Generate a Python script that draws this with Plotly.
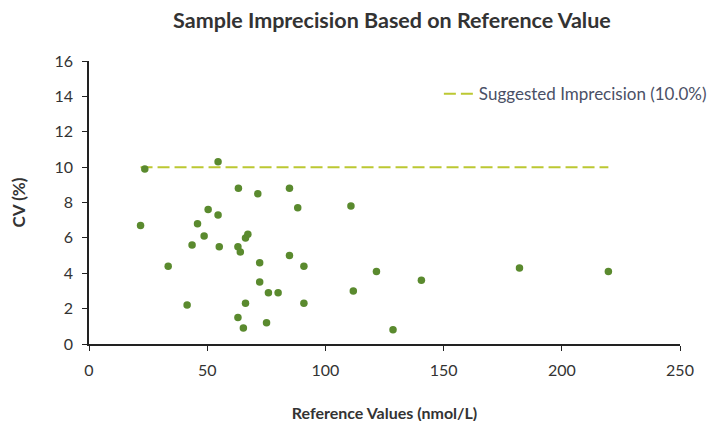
import plotly.graph_objects as go

# reference values (nmol/L) and their CV (%)
ref_values = [23.6, 54.6, 21.8, 33.5, 41.5, 43.6, 45.9, 48.7, 50.4, 54.6,
              55.1, 63.2, 63.0, 64.0, 63.0, 65.3, 66.2, 66.2, 67.2, 71.4,
              72.2, 72.2, 75.9, 75.1, 80.0, 84.8, 84.8, 88.3, 90.9, 90.9,
              110.8, 111.8, 121.6, 128.6, 140.6, 182.1, 219.7]
cv_values = [9.9, 10.3, 6.7, 4.4, 2.2, 5.6, 6.8, 6.1, 7.6, 7.3,
             5.5, 8.8, 5.5, 5.2, 1.5, 0.9, 2.3, 6.0, 6.2, 8.5,
             4.6, 3.5, 2.9, 1.2, 2.9, 8.8, 5.0, 7.7, 4.4, 2.3,
             7.8, 3.0, 4.1, 0.8, 3.6, 4.3, 4.1]
suggested_cv = 10.0

fig = go.Figure()

fig.add_trace(go.Scatter(
    x=[min(ref_values), max(ref_values)],
    y=[suggested_cv, suggested_cv],
    mode='lines',
    line=dict(color='#bcc832', width=2, dash='12px,5px'),
    name='Suggested Imprecision (10.0%)',
))

fig.add_trace(go.Scatter(
    x=ref_values,
    y=cv_values,
    mode='markers',
    marker=dict(color='#5a8a2e', size=7.5),
    showlegend=False,
))

axis_font = dict(family='Lato', size=16, color='#333333')

# the page body adds an 8px offset, margins are trimmed for it
fig.update_layout(
    width=715,
    height=421,
    paper_bgcolor='white',
    plot_bgcolor='white',
    margin=dict(l=81, r=42, t=53, b=85),
    title=dict(
        text='<b>Sample Imprecision Based on Reference Value</b>',
        x=0.537, xanchor='center', y=0.988, yanchor='top',
        font=dict(family='Lato', size=21.5, color='#333333'),
    ),
    xaxis=dict(
        range=[0, 250], dtick=50, showgrid=False, zeroline=False,
        showline=True, linecolor='#222222', linewidth=1.5,
        ticks='outside', ticklen=5, tickcolor='#222222',
        tickfont=axis_font, ticklabelstandoff=6,
        automargin=False,
        title=dict(text='<b>Reference Values (nmol/L)</b>', standoff=30,
                   font=dict(family='Lato', size=16, color='#333333')),
    ),
    yaxis=dict(
        range=[0, 16], dtick=2, showgrid=False, zeroline=False,
        showline=True, linecolor='#222222', linewidth=1.5,
        ticks='outside', ticklen=5, tickcolor='#222222',
        tickfont=axis_font, ticklabelstandoff=6,
        automargin=False,
        title=dict(text='<b>CV (%)</b>', standoff=26,
                   font=dict(family='Lato', size=17, color='#333333')),
    ),
    legend=dict(
        x=0.591, xanchor='left', y=0.883, yanchor='middle',
        bgcolor='rgba(0,0,0,0)',
        font=dict(family='Lato', size=17, color='#4a5066'),
    ),
)

fig.write_html("out.html")
